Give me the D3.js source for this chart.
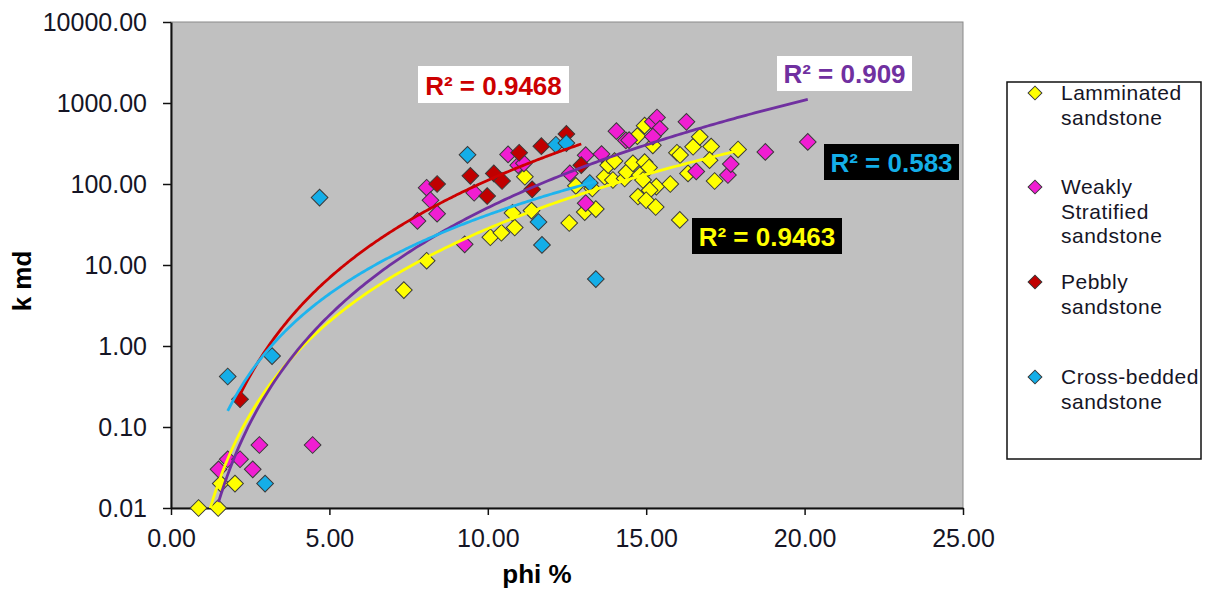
<!DOCTYPE html>
<html>
<head>
<meta charset="utf-8">
<script src="https://cdn.jsdelivr.net/npm/d3@7"></script>
<style>
  body { margin: 0; background: #fff; }
  svg { font-family: "Liberation Sans", Arial, sans-serif; }
</style>
</head>
<body>
<svg></svg>
<script>
// phi % / k md points
const laminated = [
  [0.87, 0.01], [1.49, 0.01], [1.57, 0.02], [2.02, 0.02], [7.35, 4.9], [8.07, 11.3],
  [10.08, 22], [10.43, 25], [10.85, 29], [10.78, 44], [11.38, 47], [11.17, 123],
  [12.57, 33], [12.78, 95], [13.06, 45], [13.41, 49], [13.30, 88], [13.69, 123],
  [13.80, 171], [14.0, 192], [13.95, 112], [14.32, 117], [14.38, 140], [14.58, 180],
  [14.72, 390], [14.95, 525], [14.95, 186], [15.09, 160], [14.8, 129], [14.9, 112],
  [15.21, 300], [15.32, 93], [15.76, 100], [15.11, 84], [14.74, 70], [15.0, 63],
  [15.3, 52], [16.06, 36], [15.97, 243], [16.07, 228], [16.32, 135], [16.48, 288],
  [16.69, 382], [17.05, 290], [17.0, 197], [17.16, 109], [17.9, 267]
];
const weakly = [
  [1.5, 0.03], [1.79, 0.04], [2.18, 0.04], [2.58, 0.03], [2.79, 0.06], [4.47, 0.06],
  [7.78, 35], [8.07, 90], [8.19, 63], [8.40, 43], [9.27, 18], [9.57, 78],
  [10.64, 232], [10.96, 171], [11.14, 180], [12.59, 135], [13.09, 227], [13.59, 234],
  [13.09, 58], [14.06, 449], [14.36, 345], [14.46, 348], [15.21, 585], [15.34, 662],
  [15.43, 480], [15.21, 385], [16.27, 585], [16.58, 143], [17.58, 129], [17.67, 176],
  [18.76, 249], [20.1, 331]
];
const pebbly = [
  [2.18, 0.22], [8.40, 100], [9.45, 126], [9.98, 71], [10.19, 135], [10.45, 109],
  [10.99, 243], [11.40, 86], [11.69, 293], [12.48, 415], [12.95, 171]
];
const crossBedded = [
  [1.79, 0.42], [2.97, 0.02], [3.19, 0.75], [4.69, 68], [9.36, 229], [11.6, 34],
  [11.71, 17.7], [12.15, 305], [12.48, 320], [13.22, 103], [13.41, 6.7]
];

const seriesNames = ["Lamminated sandstone", "Weakly Stratified sandstone", "Pebbly sandstone", "Cross-bedded sandstone"];
const seriesData = [laminated, weakly, pebbly, crossBedded];
const markerColors = ["#ffff00", "#f01ed2", "#c00000", "#14aee8"];
// power trendlines k = a * phi^b, coefficients
const trendA = [0.00439, 0.00198, 0.0111, 0.0239];
const trendB = [3.806, 4.41, 4.0, 3.24];
const trendColors = ["#ffff00", "#7030a0", "#cc0000", "#1eb4ee"];
const r2Labels = ["R² = 0.9463", "R² = 0.909", "R² = 0.9468", "R² = 0.583"];
const xTicks = [0, 5, 10, 15, 20, 25];
const yTicks = [0.01, 0.1, 1, 10, 100, 1000, 10000];

const width = 1206, height = 594;
const plot = { left: 171, top: 22, right: 963, bottom: 508 };

const svg = d3.select("svg").attr("width", width).attr("height", height);

const x = d3.scaleLinear().domain([0, 25]).range([plot.left, plot.right]);
const y = d3.scaleLog().domain([0.01, 10000]).range([plot.bottom, plot.top]);
const fmt = d3.format(".2f");

// plot area
svg.append("rect")
  .attr("x", plot.left).attr("y", plot.top)
  .attr("width", plot.right - plot.left).attr("height", plot.bottom - plot.top)
  .attr("fill", "#c0c0c0").attr("stroke", "#8a8a8a").attr("stroke-width", 1);

svg.append("clipPath").attr("id", "clip")
  .append("rect")
  .attr("x", plot.left).attr("y", plot.top)
  .attr("width", plot.right - plot.left).attr("height", plot.bottom - plot.top);

// axes
const xAxis = svg.append("g")
  .attr("transform", "translate(0," + plot.bottom + ")")
  .call(d3.axisBottom(x).tickValues(xTicks).tickFormat(fmt).tickSize(7).tickSizeOuter(0).tickPadding(14));
const yAxis = svg.append("g")
  .attr("transform", "translate(" + plot.left + ",0)")
  .call(d3.axisLeft(y).tickValues(yTicks).tickFormat(fmt).tickSize(8).tickSizeOuter(0).tickPadding(16));

[xAxis, yAxis].forEach(a => {
  a.select(".domain").attr("stroke", "#111").attr("stroke-width", 2);
  a.selectAll(".tick line").attr("stroke", "#111").attr("stroke-width", 1.5);
  a.selectAll(".tick text").attr("fill", "#151525").style("font-size", "25px");
});

svg.append("text")
  .attr("x", 537).attr("y", 583)
  .attr("text-anchor", "middle")
  .style("font-size", "26px").style("font-weight", "bold")
  .text("phi %");

svg.append("text")
  .attr("transform", "translate(31,281) rotate(-90)")
  .attr("text-anchor", "middle")
  .style("font-size", "26px").style("font-weight", "bold")
  .text("k  md");

// markers (not clipped, they sit over the axis at 0.01)
const diamond = d3.symbol().type(d3.symbolSquare).size(140);
const marks = svg.append("g");
seriesData.forEach((pts, i) => {
  marks.append("g").selectAll("path")
    .data(pts)
    .enter().append("path")
    .attr("d", diamond)
    .attr("transform", d => "translate(" + x(d[0]) + "," + y(d[1]) + ") rotate(45)")
    .attr("fill", markerColors[i])
    .attr("stroke", "#3a3a3a")
    .attr("stroke-width", 1);
});

// trendlines over the extent of each series
const trends = svg.append("g").attr("clip-path", "url(#clip)");
const line = d3.line().x(d => x(d[0])).y(d => y(d[1]));
seriesData.forEach((pts, i) => {
  const [x0, x1] = d3.extent(pts, d => d[0]);
  const curve = d3.range(0, 201).map(k => {
    const px = x0 + (x1 - x0) * k / 200;
    return [px, Math.max(1e-4, trendA[i] * Math.pow(px, trendB[i]))];
  });
  trends.append("path")
    .datum(curve)
    .attr("d", line)
    .attr("fill", "none")
    .attr("stroke", trendColors[i])
    .attr("stroke-width", 2.8);
});

// R² labels
const labelBoxes = [
  { x: 692, y: 218, w: 150, h: 36, bg: "#000", fg: "#ffff00" },
  { x: 777, y: 56, w: 135, h: 35, bg: "#fff", fg: "#7030a0" },
  { x: 418, y: 66, w: 151, h: 37, bg: "#fff", fg: "#cc0000" },
  { x: 824, y: 144, w: 135, h: 36, bg: "#000", fg: "#14aee8" }
];
labelBoxes.forEach((b, i) => {
  svg.append("rect")
    .attr("x", b.x).attr("y", b.y).attr("width", b.w).attr("height", b.h)
    .attr("fill", b.bg);
  svg.append("text")
    .attr("x", b.x + b.w / 2).attr("y", b.y + b.h - 8)
    .attr("text-anchor", "middle")
    .attr("fill", b.fg)
    .style("font-size", "26px").style("font-weight", "bold")
    .text(r2Labels[i]);
});

// legend
const legend = svg.append("g");
legend.append("rect")
  .attr("x", 1007).attr("y", 82).attr("width", 194).attr("height", 377)
  .attr("fill", "#fff").attr("stroke", "#111").attr("stroke-width", 1.5);

const legendY = [93, 187, 282, 377];
const legendLines = [["Lamminated", "sandstone"], ["Weakly", "Stratified", "sandstone"], ["Pebbly", "sandstone"], ["Cross-bedded", "sandstone"]];
const legendSym = d3.symbol().type(d3.symbolSquare).size(95);
legendLines.forEach((lines, i) => {
  legend.append("path")
    .attr("d", legendSym)
    .attr("transform", "translate(1035," + legendY[i] + ") rotate(45)")
    .attr("fill", markerColors[i]).attr("stroke", "#3a3a3a").attr("stroke-width", 1);
  const t = legend.append("text")
    .attr("x", 1061).attr("y", legendY[i] + 7)
    .attr("fill", "#151525")
    .style("font-size", "21px").style("letter-spacing", "0.5px");
  lines.forEach((s, j) => {
    t.append("tspan").attr("x", 1061).attr("dy", j ? 24.5 : 0).text(s);
  });
});
</script>
</body>
</html>
